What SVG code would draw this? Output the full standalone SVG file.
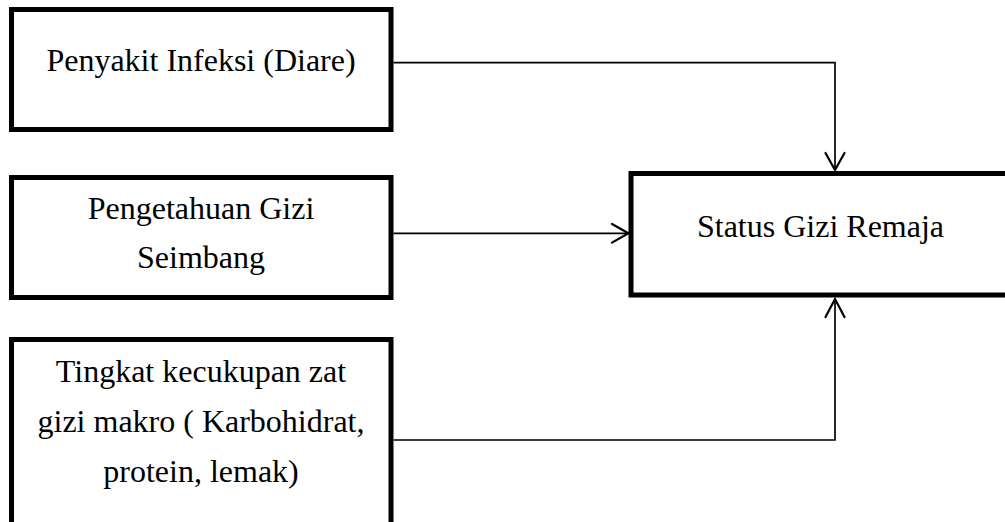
<svg xmlns="http://www.w3.org/2000/svg" width="1005" height="522" viewBox="0 0 1005 522">
<style>
.box{fill:#fff;stroke:#000;stroke-width:5}
.lbl{font-family:"Liberation Serif","Times New Roman",serif;font-size:32px;fill:#000;text-anchor:middle}
.con{fill:none;stroke:#000;stroke-width:1.7}
.head{fill:none;stroke:#000;stroke-width:2.2;stroke-linecap:round;stroke-linejoin:miter}
</style>
<rect width="1005" height="522" fill="#fff"/>
<g id="node-penyakit">
<rect class="box" x="11.5" y="9.5" width="379.5" height="120"/>
<text class="lbl" x="201" y="71">Penyakit Infeksi (Diare)</text>
</g>
<g id="node-pengetahuan">
<rect class="box" x="11.5" y="177.5" width="379.5" height="120"/>
<text class="lbl" x="201" y="219">Pengetahuan Gizi</text>
<text class="lbl" x="201" y="268">Seimbang</text>
</g>
<g id="node-tingkat">
<rect class="box" x="11.5" y="339.5" width="379.5" height="200"/>
<text class="lbl" x="201" y="382">Tingkat kecukupan zat</text>
<text class="lbl" x="201" y="432">gizi makro ( Karbohidrat,</text>
<text class="lbl" x="201" y="482">protein, lemak)</text>
</g>
<g id="node-status">
<rect class="box" x="631" y="173.5" width="390" height="121.5"/>
<text class="lbl" x="820.5" y="237">Status Gizi Remaja</text>
</g>
<g id="connectors">
<path class="con" d="M393.5 62.7 H835 V170"/>
<path class="head" d="M825.5 153 L835 170 L844.5 153"/>
<path class="con" d="M393.5 233.3 H628"/>
<path class="head" d="M612 224 L628.5 233.3 L612 242.6"/>
<path class="con" d="M393.5 440 H835 V299"/>
<path class="head" d="M825.5 317 L835 299 L844.5 317"/>
</g>
</svg>
